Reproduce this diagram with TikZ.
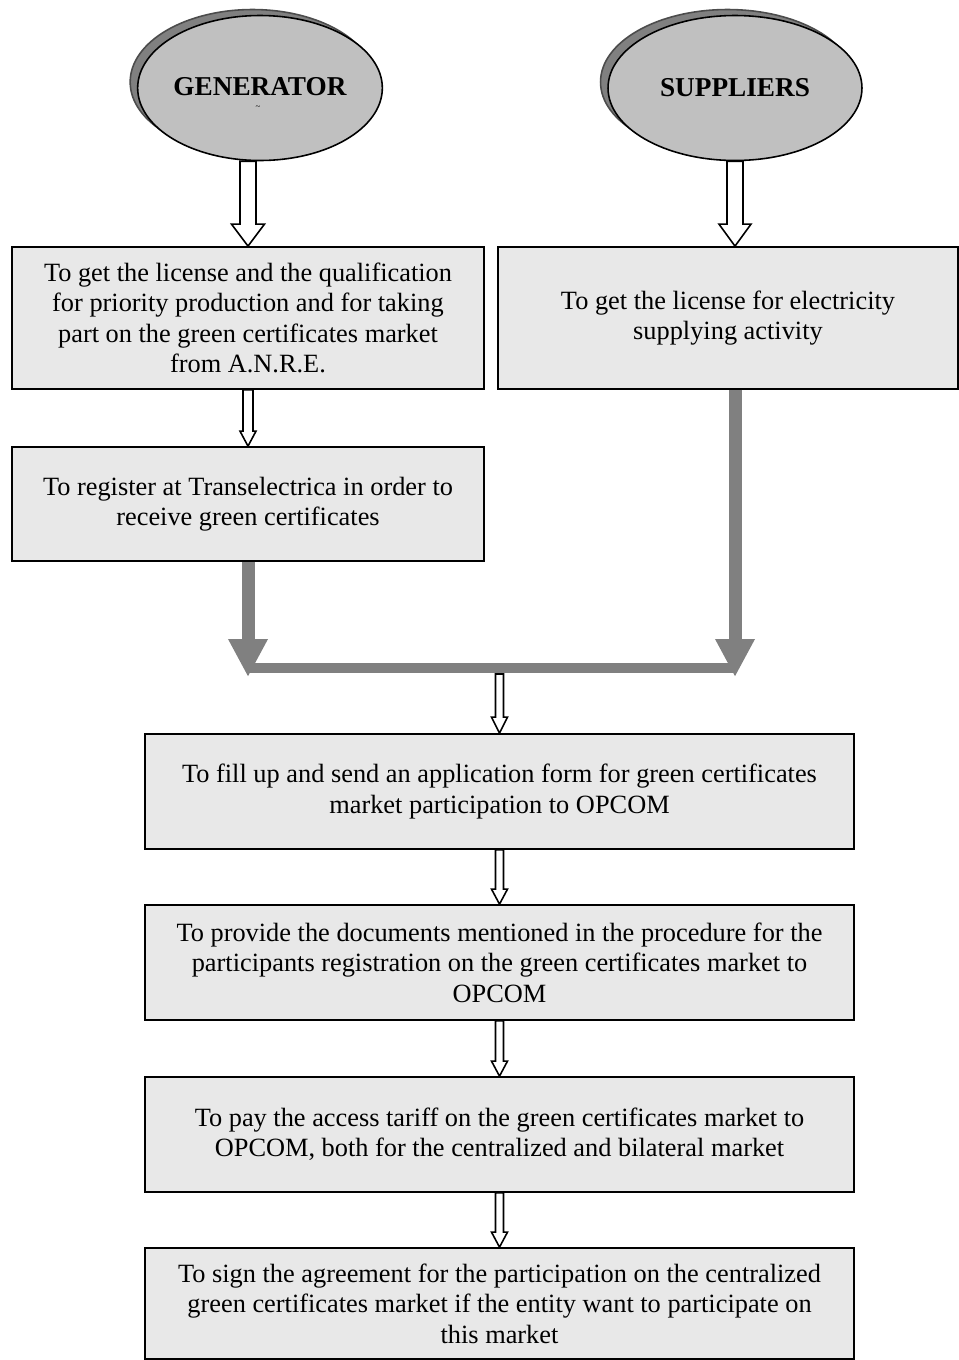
\documentclass[tikz,border=0pt]{standalone}
\usepackage{fontspec}
\setmainfont{Liberation Serif}
\usetikzlibrary{arrows.meta,calc,shapes.geometric,shadows}
\definecolor{boxgray}{HTML}{E8E8E8}
\definecolor{ellgray}{HTML}{C0C0C0}
\definecolor{darkgray}{HTML}{808080}

% hollow block arrow: start, tip, shaft half width, head half width, head length (px)
\newcommand{\hollowarrow}[5]{%
  \draw[line width=0.9pt,line join=miter,fill=white]
    ($(#1)+(-#3,0)$) -- ($(#2)+(-#3,-#5)$) -- ($(#2)+(-#4,-#5)$) -- (#2)
    -- ($(#2)+(#4,-#5)$) -- ($(#2)+(#3,-#5)$) -- ($(#1)+(#3,0)$) -- cycle;}

\begin{document}
\begin{tikzpicture}[x=0.02cm,y=-0.02cm,
  stepbox/.style={draw,line width=1pt,fill=boxgray,align=center,inner sep=0pt,
    font=\fontsize{15}{17.3}\selectfont},
  actor/.style={ellipse,draw,line width=0.9pt,fill=ellgray,inner sep=0pt,align=center,
    font=\fontsize{15.5}{17}\selectfont\bfseries,
    drop shadow={shadow xshift=-0.15cm,shadow yshift=0.12cm,fill=darkgray,draw=black!70,opacity=1}},
  grayarrow/.style={draw=darkgray,line width=0.26cm,-{Triangle[width=0.74cm,length=0.76cm]}}]
  \useasboundingbox (0,0) rectangle (959,1360);

  % actors
  \node[actor,minimum width=4.6cm,minimum height=2.9cm] (gen) at (260,88)
    {\raisebox{2pt}{GENERATOR}};
  \node[font=\tiny,inner sep=0pt] (genmark) at (258,108) {\~{}};
  \node[actor,minimum width=5.08cm,minimum height=2.9cm] (sup) at (735,88) {SUPPLIERS};

  % steps
  \node[stepbox,minimum width=9.44cm,minimum height=2.84cm] (box1) at (248,318)
    {To get the license and the qualification\\ for priority production and for taking\\ part on the green certificates market\\ from A.N.R.E.};
  \node[stepbox,minimum width=9.2cm,minimum height=2.84cm] (box2) at (728,318)
    {To get the license for electricity\\ supplying activity};
  \node[stepbox,minimum width=9.44cm,minimum height=2.28cm] (box3) at (248,504)
    {To register at Transelectrica in order to\\ receive green certificates};
  \node[stepbox,minimum width=14.18cm,minimum height=2.3cm] (box4) at (499.5,791.5)
    {To fill up and send an application form for green certificates\\ market participation to OPCOM};
  \node[stepbox,minimum width=14.18cm,minimum height=2.3cm] (box5) at (499.5,962.5)
    {To provide the documents mentioned in the procedure for the\\ participants registration on the green certificates market to\\ OPCOM};
  \node[stepbox,minimum width=14.18cm,minimum height=2.3cm] (box6) at (499.5,1134.5)
    {To pay the access tariff on the green certificates market to\\ OPCOM, both for the centralized and bilateral market};
  \node[stepbox,minimum width=14.18cm,minimum height=2.22cm] (box7) at (499.5,1303.5)
    {To sign the agreement for the participation on the centralized\\ green certificates market if the entity want to participate on\\ this market};

  % hollow arrows
  \coordinate (g1) at (box1.north |- gen.south);
  \hollowarrow{g1}{box1.north}{8}{16.5}{22}
  \coordinate (s1) at (sup.south |- box2.north);
  \hollowarrow{sup.south}{s1}{8}{16}{22}
  \hollowarrow{box1.south}{box3.north}{5}{8}{15}

  % gray merge
  \coordinate (lt) at (248,677);
  \coordinate (lb) at (248,668);
  \coordinate (rt) at (sup.south |- lt);
  \coordinate (rb) at (sup.south |- lb);
  \coordinate (s2) at (sup.south |- box2.south);
  \draw[darkgray,line width=0.2cm] (lb) -- (rb);
  \draw[grayarrow] (box3.south) -- (lt);
  \draw[grayarrow] (s2) -- (rt);

  \coordinate (barmid) at (496,674);
  \coordinate (join) at (box4.north |- barmid);
  \hollowarrow{join}{box4.north}{4}{8}{16}
  \hollowarrow{box4.south}{box5.north}{4}{8}{15}
  \hollowarrow{box5.south}{box6.north}{4}{8}{15}
  \hollowarrow{box6.south}{box7.north}{4}{8}{15}
\end{tikzpicture}
\end{document}
